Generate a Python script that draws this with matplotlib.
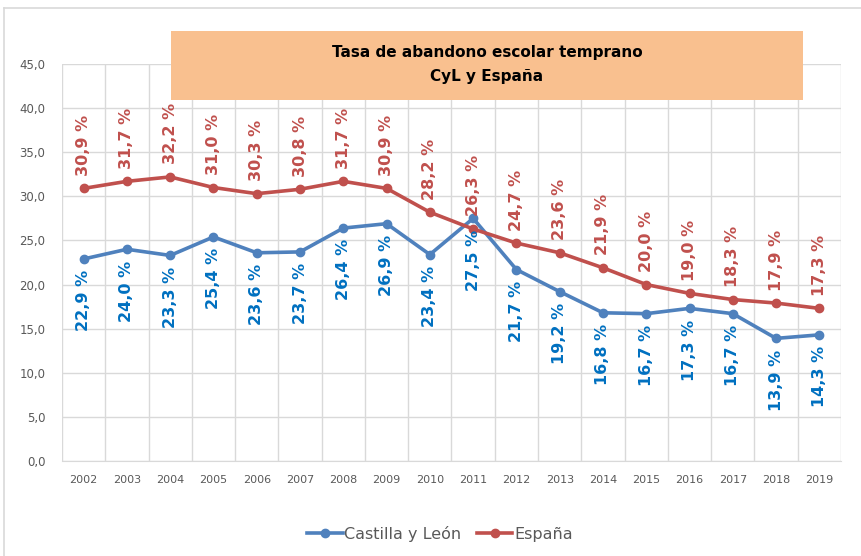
import matplotlib.pyplot as plt
from matplotlib.patches import Rectangle
from matplotlib.lines import Line2D

years = [str(y) for y in range(2002, 2020)]
cyl = [22.9, 24.0, 23.3, 25.4, 23.6, 23.7, 26.4, 26.9, 23.4, 27.5,
       21.7, 19.2, 16.8, 16.7, 17.3, 16.7, 13.9, 14.3]
espana = [30.9, 31.7, 32.2, 31.0, 30.3, 30.8, 31.7, 30.9, 28.2, 26.3,
          24.7, 23.6, 21.9, 20.0, 19.0, 18.3, 17.9, 17.3]

blue = '#4F81BD'
red = '#C0504D'
blue_txt = '#0070C0'
grey = '#595959'

W, H = 862, 556
fig = plt.figure(figsize=(W / 100, H / 100), dpi=100)
ax = fig.add_axes([62 / W, 1 - 461 / H, (841 - 62) / W, (461 - 64) / H])

# chart frame (only top and left edges visible)
fig.add_artist(Line2D([4 / W, 1], [1 - 8 / H, 1 - 8 / H], transform=fig.transFigure,
                      color='#D9D9D9', lw=1.2))
fig.add_artist(Line2D([4 / W, 4 / W], [0, 1 - 8 / H], transform=fig.transFigure,
                      color='#D9D9D9', lw=1.2))

x = list(range(len(years)))
ax.plot(x, cyl, color=blue, lw=2.6, marker='o', ms=6, zorder=3)
ax.plot(x, espana, color=red, lw=2.6, marker='o', ms=6, zorder=3)

for i in x:
    ax.annotate(f'{espana[i]:.1f} %'.replace('.', ','), (i, espana[i]),
                xytext=(0, 9), textcoords='offset points', rotation=90,
                ha='center', va='bottom', color=red, fontsize=11.5,
                fontweight='bold', zorder=4)
    ax.annotate(f'{cyl[i]:.1f} %'.replace('.', ','), (i, cyl[i]),
                xytext=(0, -8), textcoords='offset points', rotation=90,
                ha='center', va='top', color=blue_txt, fontsize=11.5,
                fontweight='bold', zorder=4)

ax.set_xlim(-0.5, len(years) - 0.5)
ax.set_ylim(0, 45)
ax.set_yticks([i * 5 for i in range(10)])
ax.set_yticklabels([f'{i * 5:.1f}'.replace('.', ',') for i in range(10)])
ax.set_xticks(x)
ax.set_xticklabels(years)
ax.set_xticks([i - 0.5 for i in range(len(years) + 1)], minor=True)
ax.grid(True, which='minor', axis='x', color='#D9D9D9', lw=1)
ax.grid(True, which='major', axis='y', color='#D9D9D9', lw=1)
ax.set_axisbelow(True)
ax.tick_params(which='both', length=0)
ax.tick_params(axis='y', labelsize=8.5, labelcolor=grey, pad=12)
ax.tick_params(axis='x', labelsize=8, labelcolor=grey, pad=10)
for s in ['top', 'right', 'left']:
    ax.spines[s].set_visible(False)
ax.spines['bottom'].set_color('#D9D9D9')

# title box
fig.add_artist(Rectangle((171 / W, 1 - 100 / H), (803 - 171) / W, 69 / H,
                         transform=fig.transFigure, facecolor='#F9C08F',
                         edgecolor='none', zorder=5))
fig.text(487 / W, 1 - 52 / H, 'Tasa de abandono escolar temprano', ha='center',
         va='center', fontsize=11, fontweight='bold', zorder=6)
fig.text(487 / W, 1 - 77 / H, 'CyL y España', ha='center', va='center',
         fontsize=11, fontweight='bold', zorder=6)

handles = [Line2D([], [], color=blue, lw=2.6, marker='o', ms=6),
           Line2D([], [], color=red, lw=2.6, marker='o', ms=6)]
fig.legend(handles, ['Castilla y León', 'España'], loc='center',
           bbox_to_anchor=(440 / W, 1 - 534 / H), ncol=2, frameon=False,
           fontsize=11.5, labelcolor=grey, handlelength=2.2, handletextpad=0.1,
           columnspacing=1.0)

fig.savefig('out.png', dpi=100)
